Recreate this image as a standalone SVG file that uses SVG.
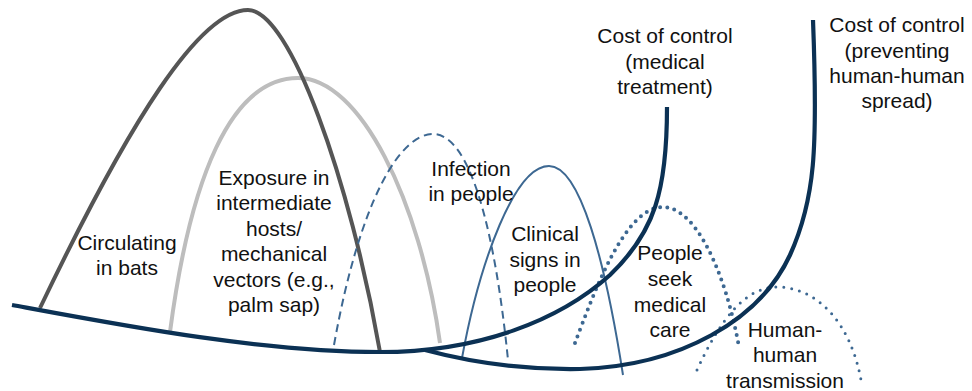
<svg xmlns="http://www.w3.org/2000/svg" width="972" height="391" viewBox="0 0 972 391">
<style>
  .lbl { font-family: "Liberation Sans", Arial, Helvetica, sans-serif; font-size: 21px; fill: #111; text-anchor: middle; }
  .curve { fill: none; }
  .navy { stroke: #0b3154; stroke-width: 4.2; stroke-linecap: butt; }
  .dgray { stroke: #555555; stroke-width: 4; }
  .lgray { stroke: #bdbdbd; stroke-width: 4; }
  .blue { stroke: #3d6892; }
  .dashed { stroke-width: 2; stroke-dasharray: 8 5; }
  .thin { stroke-width: 2; }
  .dots1 { stroke-width: 4; stroke-linecap: round; stroke-dasharray: 0 7.2; }
  .dots2 { stroke-width: 3; stroke-linecap: round; stroke-dasharray: 0 8; }
</style>
<rect width="972" height="391" fill="#ffffff"/>
<g id="connectors">
  <path id="exposure-arch" class="curve lgray" d="M170,332 C190,180 230,78 298,78 C360,78 420,200 440,343"/>
  <path id="bats-arch" class="curve dgray" d="M40,308 C130,120 200,10 248,10 C290,10 350,180 380,352"/>
  <path id="infection-arch" class="curve blue dashed" d="M334,345 C360,200 400,134 433,134 C470,134 495,230 508,360"/>
  <path id="clinical-arch" class="curve blue thin" d="M462,358 C480,260 515,166 549,166 C580,166 605,260 623,375"/>
  <path id="care-arch" class="curve blue dots1" d="M575,343 C595,290 625,207 663,207 C695,207 725,270 739,347"/>
  <path id="h2h-arch" class="curve blue dots2" d="M697,370 C720,320 745,287 777,287 C815,287 850,320 861,380"/>
  <path id="cost-medical" class="curve navy" d="M12,305 C120,325 260,352 380,352 C480,352 560,320 610,275 C655,232 667,190 667,107"/>
  <path id="cost-prevent" class="curve navy" d="M425,350 C470,362 520,370 580,369 C680,366 760,320 790,255 C815,200 818,150 813,20"/>
</g>
<g id="node-bats">
  <text class="lbl" x="127" y="250">Circulating</text>
  <text class="lbl" x="127" y="275">in bats</text>
</g>
<g id="node-exposure">
  <text class="lbl" x="274" y="185">Exposure in</text>
  <text class="lbl" x="274" y="210">intermediate</text>
  <text class="lbl" x="274" y="236">hosts/</text>
  <text class="lbl" x="274" y="261">mechanical</text>
  <text class="lbl" x="274" y="287">vectors (e.g.,</text>
  <text class="lbl" x="274" y="312">palm sap)</text>
</g>
<g id="node-infection">
  <text class="lbl" x="471" y="176">Infection</text>
  <text class="lbl" x="471" y="201">in people</text>
</g>
<g id="node-clinical">
  <text class="lbl" x="545" y="241">Clinical</text>
  <text class="lbl" x="545" y="267">signs in</text>
  <text class="lbl" x="545" y="292">people</text>
</g>
<g id="node-care">
  <text class="lbl" x="670" y="260">People</text>
  <text class="lbl" x="670" y="286">seek</text>
  <text class="lbl" x="670" y="312">medical</text>
  <text class="lbl" x="670" y="337">care</text>
</g>
<g id="node-h2h">
  <text class="lbl" x="785" y="337">Human-</text>
  <text class="lbl" x="785" y="362">human</text>
  <text class="lbl" x="785" y="388">transmission</text>
</g>
<g id="node-cost-medical">
  <text class="lbl" x="665" y="43">Cost of control</text>
  <text class="lbl" x="665" y="69">(medical</text>
  <text class="lbl" x="665" y="94">treatment)</text>
</g>
<g id="node-cost-prevent">
  <text class="lbl" x="897" y="32">Cost of control</text>
  <text class="lbl" x="897" y="58">(preventing</text>
  <text class="lbl" x="897" y="83">human-human</text>
  <text class="lbl" x="897" y="108">spread)</text>
</g>
</svg>
